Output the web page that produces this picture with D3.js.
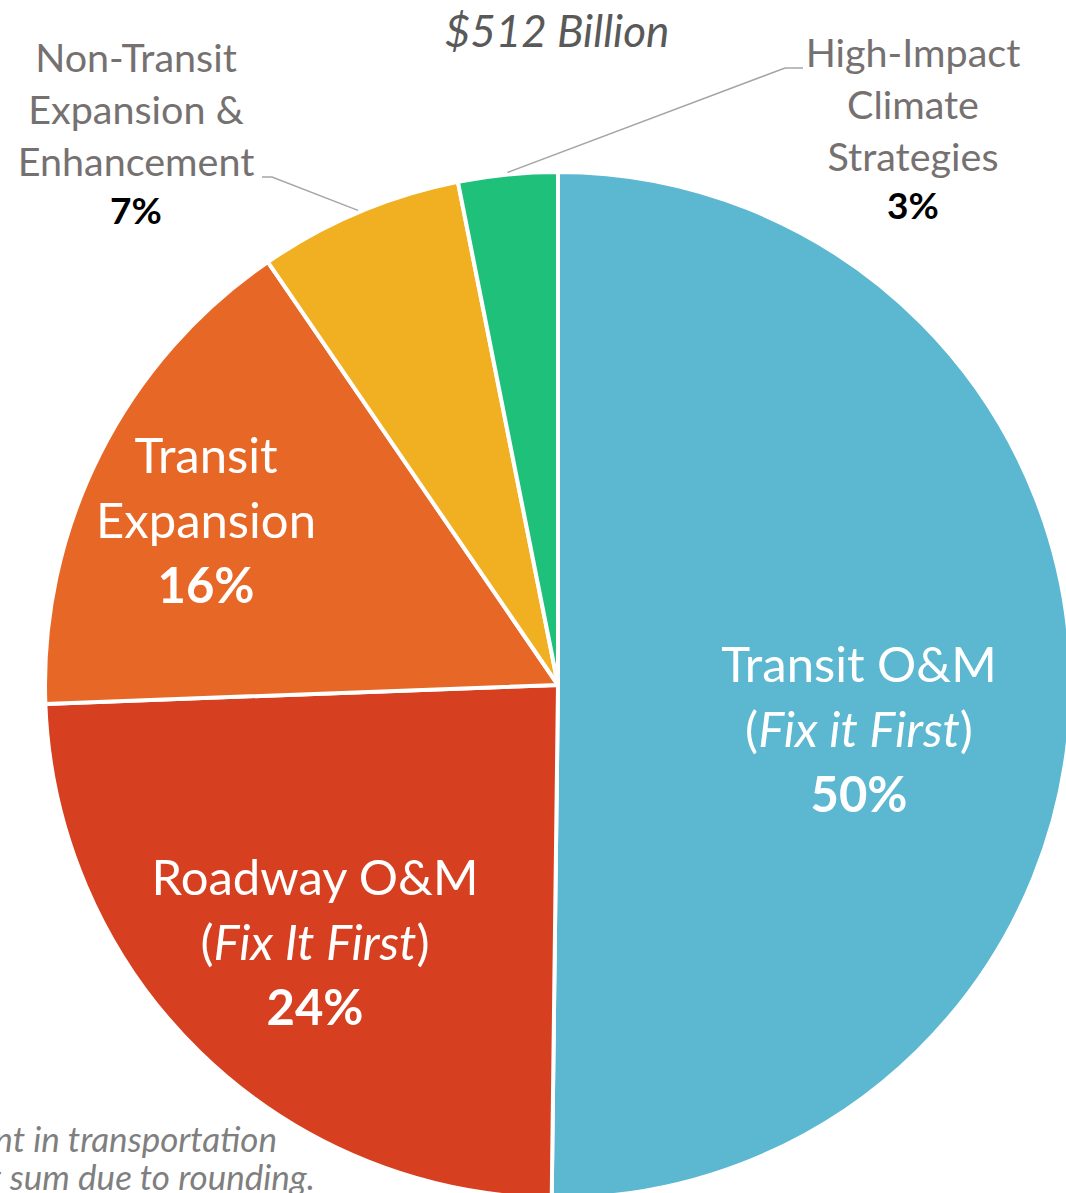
<!DOCTYPE html>
<html>
<head>
<meta charset="utf-8">
<script src="https://cdn.jsdelivr.net/npm/d3@7"></script>
<style>
  html, body { margin: 0; padding: 0; background: #fff; overflow: hidden; }
  svg { display: block; font-family: Lato, "Open Sans", sans-serif; }
</style>
</head>
<body>
<svg width="1066" height="1193"></svg>
<script>
// values in $ billions, clockwise from 12 o'clock
var categories = ["Transit O&M", "Roadway O&M", "Transit Expansion",
                  "Non-Transit Expansion & Enhancement", "High-Impact Climate Strategies"];
var values = [257, 124, 82, 33, 16];
var percentLabels = ["50%", "24%", "16%", "7%", "3%"];
var colors = ["#5cb7d0", "#d63f1f", "#e76826", "#f1b022", "#1fc17a"];
var totalLabel = "$512 Billion";

var svg = d3.select("svg"),
    cx = 558, cy = 685, radius = 513;

var data = categories.map(function (c, i) {
    return { name: c, value: values[i], pct: percentLabels[i], color: colors[i] };
});

var pie = d3.pie().sort(null).value(function (d) { return d.value; });
var arc = d3.arc().innerRadius(0).outerRadius(radius);
var arcs = pie(data);

var g = svg.append("g").attr("transform", "translate(" + cx + "," + cy + ")");

g.selectAll("path.slice")
    .data(arcs)
    .enter().append("path")
    .attr("class", "slice")
    .attr("d", arc)
    .attr("fill", function (d) { return d.data.color; })
    .attr("stroke", "#fff")
    .attr("stroke-width", 4)
    .attr("stroke-linejoin", "round");

// title
svg.append("text")
    .attr("x", 557).attr("y", 47)
    .attr("text-anchor", "middle")
    .attr("font-size", 44)
    .attr("font-style", "italic")
    .attr("fill", "#595959")
    .text(totalLabel);

// inside labels
var inside = [
    { i: 0, x: 859, y: 682, lines: ["Transit O&M", "fix:Fix it First"] },
    { i: 1, x: 315, y: 895, lines: ["Roadway O&M", "fix:Fix It First"] },
    { i: 2, x: 206, y: 473, lines: ["Transit", "Expansion"] }
];
inside.forEach(function (l) {
    var t = svg.append("text")
        .attr("text-anchor", "middle")
        .attr("font-size", 49)
        .attr("fill", "#fff");
    l.lines.forEach(function (line, k) {
        var ts = t.append("tspan").attr("x", l.x).attr("y", l.y + k * 65);
        if (line.indexOf("fix:") === 0) {
            ts.text("(");
            t.append("tspan").attr("font-style", "italic").text(line.slice(4));
            t.append("tspan").text(")");
        } else {
            ts.text(line);
        }
    });
    t.append("tspan")
        .attr("x", l.x).attr("y", l.y + l.lines.length * 65)
        .attr("font-weight", "bold")
        .text(arcs[l.i].data.pct);
});

// outside labels with leader lines
var outside = [
    { i: 3, x: 136, y: 72, lines: ["Non-Transit", "Expansion &", "Enhancement"], elbow: [[262, 177], [272, 177]] },
    { i: 4, x: 913, y: 67, lines: ["High-Impact", "Climate", "Strategies"], elbow: [[803, 68], [785, 68]] }
];
outside.forEach(function (l) {
    var a = arcs[l.i],
        mid = (a.startAngle + a.endAngle) / 2,
        r = radius + 2,
        end = [cx + r * Math.sin(mid), cy - r * Math.cos(mid)];
    svg.append("path")
        .attr("d", d3.line()(l.elbow.concat([end])))
        .attr("fill", "none")
        .attr("stroke", "#a6a6a6")
        .attr("stroke-width", 1.5);

    var t = svg.append("text")
        .attr("text-anchor", "middle")
        .attr("font-size", 39.5)
        .attr("fill", "#767171");
    l.lines.forEach(function (line, k) {
        t.append("tspan").attr("x", l.x).attr("y", l.y + k * 52).text(line);
    });
    t.append("tspan")
        .attr("x", l.x).attr("y", l.y + 152)
        .attr("font-weight", "bold")
        .attr("font-size", 37)
        .attr("fill", "#000")
        .text(a.data.pct);
});

// footnote (runs off the left edge, as in the source slide)
var note = svg.append("text")
    .attr("text-anchor", "end")
    .attr("font-size", 35)
    .attr("font-style", "italic")
    .attr("fill", "#7f7f7f");
note.append("tspan").attr("x", 277).attr("y", 1152).text("Percentages are of total investment in transportation");
note.append("tspan").attr("x", 315).attr("y", 1190).text("and may not sum due to rounding.");
</script>
</body>
</html>
